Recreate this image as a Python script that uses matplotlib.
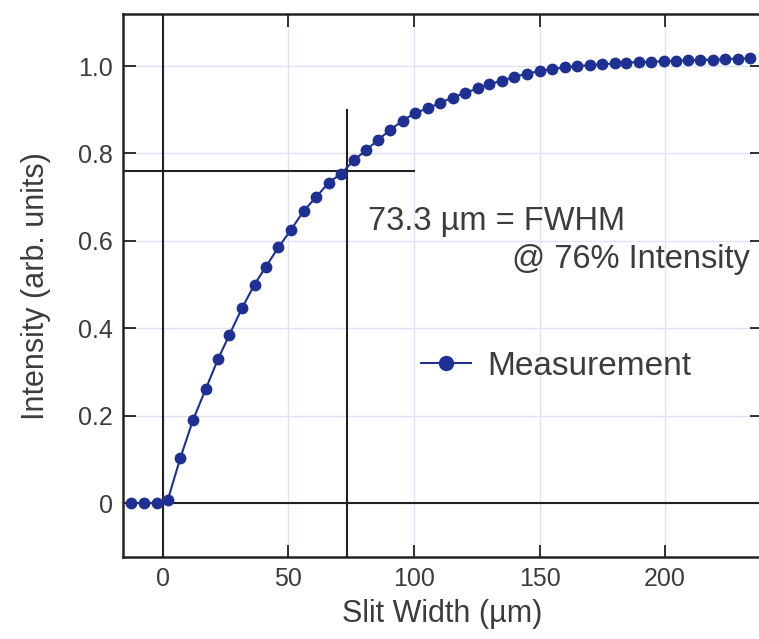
import numpy as np
import matplotlib
matplotlib.use("Agg")
import matplotlib.pyplot as plt
from matplotlib.ticker import FuncFormatter

plt.rcParams['font.family'] = ['Liberation Sans', 'DejaVu Sans']

# измерение: ширина щели (мкм) и интенсивность
slit_width = [-12.5, -7.5, -2.5, 2.0, 7.0, 12.0, 17.0, 22.0, 26.5, 31.5,
              36.5, 41.0, 46.0, 51.0, 56.0, 61.0, 66.0, 71.0, 76.0, 81.0,
              85.5, 90.5, 95.5, 100.5, 105.5, 110.5, 115.5, 120.5, 125.5, 130.0,
              135.0, 140.0, 145.0, 150.0, 155.0, 160.0, 165.0, 170.0, 175.0, 180.0,
              184.5, 189.5, 194.5, 199.5, 204.5, 209.0, 214.0, 219.0, 224.0, 229.0,
              234.0]
intensity = [0.0, 0.0, 0.0, 0.008, 0.104, 0.19, 0.26, 0.33, 0.385, 0.446,
             0.50, 0.541, 0.585, 0.625, 0.668, 0.70, 0.733, 0.754, 0.784, 0.808,
             0.83, 0.854, 0.875, 0.893, 0.903, 0.916, 0.928, 0.939, 0.949, 0.959,
             0.966, 0.976, 0.982, 0.989, 0.993, 0.997, 1.0, 1.002, 1.004, 1.006,
             1.008, 1.009, 1.01, 1.011, 1.012, 1.013, 1.014, 1.015, 1.016, 1.017,
             1.018]

fwhm = 73.3
level = 0.76
fwhm_top = 0.9
level_right = 100

x_ticks = [0, 50, 100, 150, 200]
y_ticks = [0, 0.2, 0.4, 0.6, 0.8, 1.0]

blue = '#1e3192'
ink = '#222222'
txt = '#3c3c3c'
grid_c = '#dfe2f2'

fig = plt.figure(figsize=(7.59, 6.39), dpi=100)
ax = fig.add_axes([0.162, 0.128, 0.842, 0.850])

xmin, xmax = -15.9, 238.6
ymin, ymax = -0.124, 1.119
ax.set_xlim(xmin, xmax)
ax.set_ylim(ymin, ymax)

ax.set_xticks(x_ticks)
ax.set_yticks(y_ticks)
ax.yaxis.set_major_formatter(FuncFormatter(lambda v, p: '0' if v == 0 else f'{v:.1f}'))
ax.grid(True, color=grid_c, linewidth=1.0, zorder=0)

# опорные линии
ax.axvline(0, color=ink, linewidth=1.5, zorder=2)
ax.axhline(0, color=ink, linewidth=1.5, zorder=2)
ax.plot([xmin, level_right], [level, level], color=ink, linewidth=1.5, zorder=2)
ax.plot([fwhm, fwhm], [ymin, fwhm_top], color=ink, linewidth=1.5, zorder=2)

ax.plot(slit_width, intensity, color=blue, linewidth=1.5, marker='o',
        markersize=8.5, markeredgewidth=0, label='Measurement', zorder=3)

ax.text(81.5, 0.645, '73.3 \u00b5m = FWHM', fontsize=23.5, color=txt, va='center', ha='left')
ax.text(139, 0.557, '@ 76% Intensity', fontsize=23.5, color=txt, va='center', ha='left')

leg = ax.legend(loc='upper left', bbox_to_anchor=(0.445, 0.405), frameon=False,
                fontsize=24, handlelength=1.5, handletextpad=0.5, borderaxespad=0,
                markerscale=1.3)
for t in leg.get_texts():
    t.set_color(txt)

ax.tick_params(direction='in', length=9, width=1.3, top=True, right=True,
               labelsize=18, labelcolor=txt, colors=ink, pad=7)
ax.tick_params(axis='x', labelcolor=txt)
for s in ax.spines.values():
    s.set_linewidth(1.8)
    s.set_color(ink)

ax.set_xlabel('Slit Width (\u00b5m)', fontsize=22, color=txt, labelpad=6)
ax.set_ylabel('Intensity (arb. units)', fontsize=22, color=txt, labelpad=20)

fig.savefig('out.png', dpi=100)
